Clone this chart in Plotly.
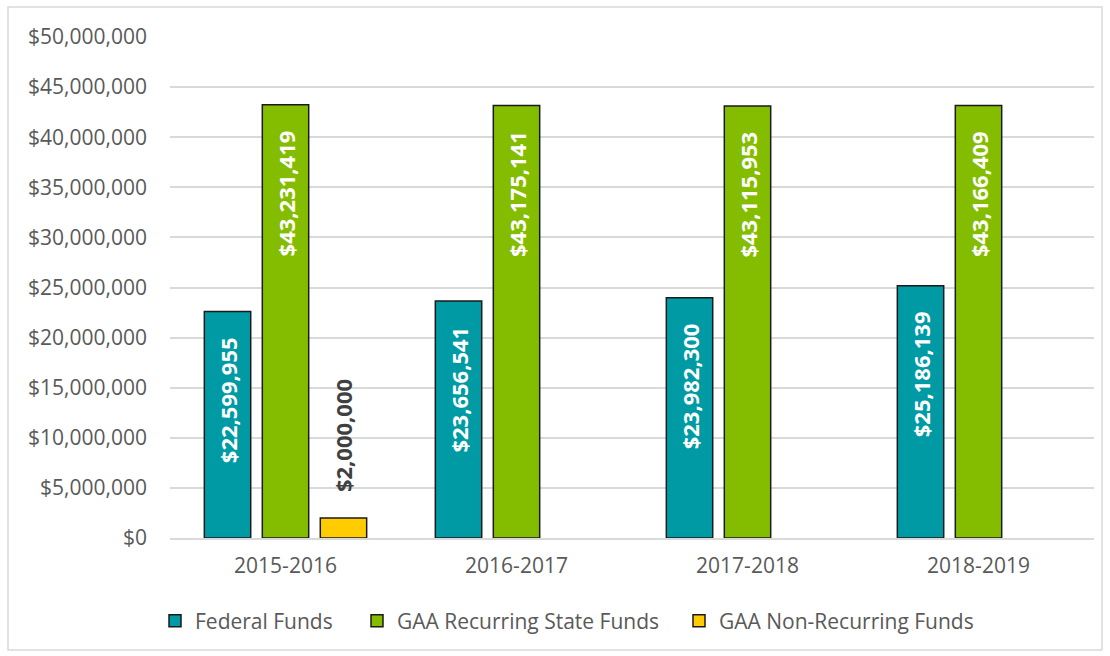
import plotly.graph_objects as go

years = ["2015-2016", "2016-2017", "2017-2018", "2018-2019"]
federal = [22599955, 23656541, 23982300, 25186139]
recurring = [43231419, 43175141, 43115953, 43166409]
nonrecurring = [2000000, None, None, None]
series_names = ["Federal Funds", "GAA Recurring State Funds", "GAA Non-Recurring Funds"]
y_ticks = list(range(0, 50000001, 5000000))

FONT = "Open Sans"
NB = "\u00a0"
LBL = 22
TXT = 21

fig = go.Figure()
fig.add_trace(go.Bar(
    x=years, y=federal, name=series_names[0], legend="legend",
    marker=dict(color="#009AA5", line=dict(color="#1a1a1a", width=1.5)),
    texttemplate="$%{y:,.0f}" + NB * 4, textposition="inside", insidetextanchor="end",
    textangle=-90, constraintext="none",
    textfont=dict(family=FONT, size=LBL, color="white", weight="bold"),
))
fig.add_trace(go.Bar(
    x=years, y=recurring, name=series_names[1], legend="legend2",
    marker=dict(color="#84BD00", line=dict(color="#1a1a1a", width=1.5)),
    texttemplate="$%{y:,.0f}" + NB * 4, textposition="inside", insidetextanchor="end",
    textangle=-90, constraintext="none",
    textfont=dict(family=FONT, size=LBL, color="white", weight="bold"),
))
fig.add_trace(go.Bar(
    x=years, y=nonrecurring, name=series_names[2], legend="legend3",
    marker=dict(color="#FFCC00", line=dict(color="#1a1a1a", width=1.5)),
    texttemplate=NB * 4 + "$%{y:,.0f}", textposition="outside",
    textangle=-90, constraintext="none", cliponaxis=False,
    textfont=dict(family=FONT, size=LBL, color="#404040", weight="bold"),
))

L, R, T, B = 170, 16, 37, 118
W, H = 1110, 656
pw, ph = W - L - R, H - T - B

def px_x(px):
    return (px - L) / pw

def px_y(py):
    return (H - B - py) / ph

def leg(xpx):
    return dict(orientation="h", xref="container", x=xpx / W, xanchor="left",
                yref="container", y=(H - 621) / H, yanchor="middle",
                font=dict(family=FONT, size=TXT, color="#595959"),
                itemwidth=30, bgcolor="rgba(0,0,0,0)")

fig.update_layout(
    width=W, height=H,
    margin=dict(l=L, r=R, t=T, b=B),
    paper_bgcolor="white", plot_bgcolor="white",
    barmode="group", bargap=0.247, bargroupgap=0.2,
    font=dict(family=FONT, color="#595959", size=TXT),
    showlegend=True,
    legend=leg(155), legend2=leg(357), legend3=leg(679),
    yaxis=dict(range=[0, 50000000], tickvals=y_ticks, tickformat="$,",
               showgrid=True, gridcolor="#D9D9D9", gridwidth=1.5,
               zeroline=False, showline=False, ticks="", ticklabelstandoff=22,
               tickfont=dict(family=FONT, size=TXT, color="#595959")),
    xaxis=dict(type="category", showgrid=False, showline=True, linecolor="#D9D9D9",
               linewidth=1.5, ticks="", ticklabelstandoff=8,
               tickfont=dict(family=FONT, size=TXT, color="#595959")),
    shapes=[dict(type="rect", xref="paper", yref="paper",
                 x0=px_x(8), x1=px_x(1102), y0=px_y(650), y1=px_y(7),
                 line=dict(color="#D9D9D9", width=1.5), fillcolor="rgba(0,0,0,0)",
                 layer="below")],
)

fig.write_html("out.html", config={"displayModeBar": False},
               post_script="document.body.style.margin='0';")
